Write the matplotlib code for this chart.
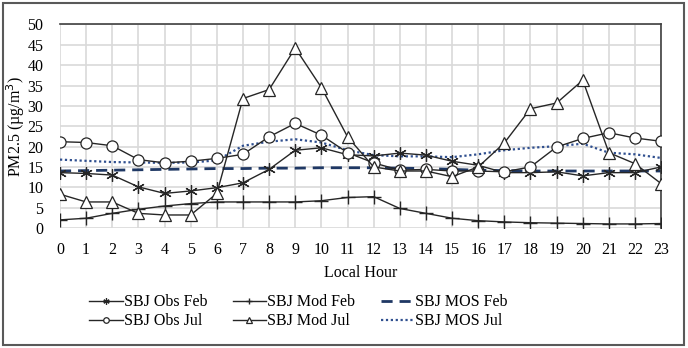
import matplotlib.pyplot as plt
from matplotlib.patches import Rectangle

hours = list(range(24))

obs_feb = [13.6, 13.4, 13.0, 10.1, 8.5, 9.1, 9.9, 11.1, 14.4, 19.1, 19.7, 18.0,
           17.7, 18.4, 17.9, 16.4, 15.4, 13.6, 13.6, 13.8, 12.8, 13.6, 13.6, 15.0]
mod_feb = [2.0, 2.4, 3.6, 4.6, 5.4, 6.0, 6.4, 6.4, 6.4, 6.4, 6.7, 7.5,
           7.7, 4.8, 3.6, 2.4, 1.8, 1.5, 1.3, 1.2, 1.1, 1.0, 1.0, 1.1]
mos_feb = [14.0, 14.1, 14.2, 14.3, 14.4, 14.5, 14.6, 14.6, 14.7, 14.7, 14.8, 14.8,
           14.8, 14.7, 14.6, 14.4, 14.2, 14.1, 14.0, 14.0, 14.0, 14.0, 14.0, 14.0]
obs_jul = [21.2, 21.0, 20.2, 16.8, 16.0, 16.4, 17.1, 18.1, 22.4, 25.7, 22.8, 18.5,
           16.0, 14.2, 14.4, 14.0, 14.0, 13.8, 15.0, 19.9, 22.0, 23.4, 22.1, 21.3]
mod_jul = [8.3, 6.4, 6.4, 3.6, 3.2, 3.2, 8.5, 31.8, 34.0, 44.2, 34.5, 22.4,
           15.0, 14.0, 14.0, 12.6, 15.0, 20.9, 29.3, 30.7, 36.3, 18.5, 15.8, 10.9]
mos_jul = [16.8, 16.5, 16.2, 16.1, 16.0, 16.1, 16.6, 20.2, 21.2, 21.8, 21.0, 19.1,
           17.9, 17.6, 17.6, 17.4, 18.1, 19.1, 19.7, 20.1, 20.7, 18.5, 18.1, 17.2]

plt.rcParams['font.family'] = ['Liberation Serif', 'DejaVu Serif']
fs = 11.5

fig = plt.figure(figsize=(6.88, 3.48), dpi=100)
ax = fig.add_axes([0.0872, 0.3448, 0.8738, 0.585])

ln = '#262626'
ax.plot(hours, obs_feb, color=ln, lw=1.0, marker=(6, 2, 0), ms=9, mew=0.9,
        label='SBJ Obs Feb', zorder=3)
ax.plot(hours, obs_jul, color=ln, lw=1.0, marker='o', ms=8, mfc='white', mew=0.9,
        label='SBJ Obs Jul', zorder=3)
ax.plot(hours, mod_feb, color=ln, lw=1.0, marker='+', ms=10, mew=1.0,
        label='SBJ Mod Feb', zorder=3)
ax.plot(hours, mod_jul, color=ln, lw=1.0, marker='^', ms=8, mfc='white', mew=0.9,
        label='SBJ Mod Jul', zorder=3)
ax.plot(hours, mos_feb, color='#1f3864', lw=2.0, ls=(0, (4, 2.5)),
        label='SBJ MOS Feb', zorder=2)
ax.plot(hours, mos_jul, color='#2f4f8f', lw=1.6, ls=(0, (1, 1.2)),
        label='SBJ MOS Jul', zorder=2)

ax.set_xlim(0, 23)
ax.set_ylim(0, 50)
ax.set_xticks(hours)
ax.set_yticks(range(0, 51, 5))
ax.grid(True, color='#d9d9d9', lw=1.2)
ax.set_axisbelow(True)
ax.tick_params(length=0, labelsize=fs, pad=10)
ax.tick_params(axis='y', pad=12)
for s in ['left', 'bottom']:
    ax.spines[s].set_visible(False)
for s in ['top', 'right']:
    ax.spines[s].set_color('#404040')
    ax.spines[s].set_linewidth(1.2)

ax.set_xlabel('Local Hour', fontsize=fs, labelpad=5)
ax.set_ylabel('PM2.5 (µg/m$^3$)', fontsize=fs, labelpad=0)

ax.legend(ncol=3, loc='upper left', bbox_to_anchor=(0.03, -0.27), frameon=False,
          fontsize=fs, handlelength=2.1, handletextpad=0.05, columnspacing=1.6,
          labelspacing=0.2, markerscale=0.5, borderpad=0.2)

fig.add_artist(Rectangle((0.004, 0.008), 0.99, 0.983, transform=fig.transFigure,
                         fill=False, edgecolor='#595959', lw=1.5))

fig.savefig('out.png', dpi=100)
